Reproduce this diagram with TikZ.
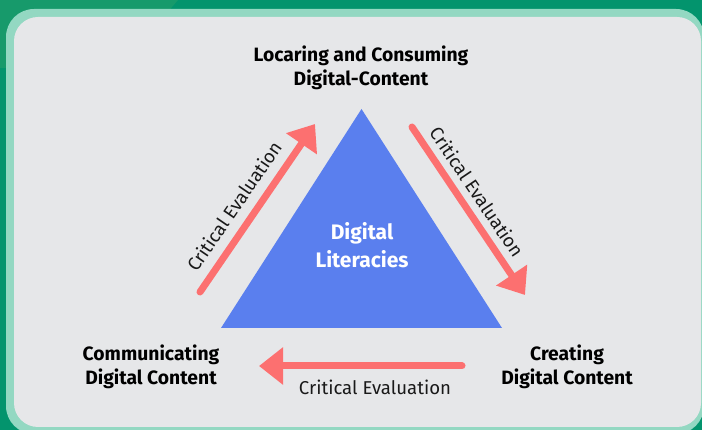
\documentclass[tikz,border=0pt]{standalone}
\usepackage{fontspec}
\setmainfont{Fira Sans}
\usetikzlibrary{arrows.meta}
\definecolor{bgdark}{HTML}{03946D}
\definecolor{bglight}{HTML}{179A6B}
\definecolor{framegreen}{HTML}{93D8C2}
\definecolor{panelgrey}{HTML}{E6E7E9}
\definecolor{triblue}{HTML}{5A7FEE}
\definecolor{arrred}{HTML}{FC7070}
\tikzset{
  headlabel/.style={font=\fontsize{19.3}{24.5}\selectfont\bfseries, align=center, text=black, inner sep=0pt},
  evallabel/.style={font=\fontsize{18.6}{20}\selectfont, text=black!90, inner sep=0pt},
  evalarrow/.style={draw=arrred, line width=7pt, line cap=round, -{Triangle[length=24pt 0 0, width=36pt 0 0]}},
}
\begin{document}
\begin{tikzpicture}[x=1pt,y=-1pt]
\useasboundingbox (0,0) rectangle (702,430);
% background
\fill[bgdark] (0,0) rectangle (702,430);
\fill[bglight] (0,0) -- (178,0) -- (120,68) -- (0,68) -- cycle;
% frame and panel
\fill[framegreen, rounded corners=28pt] (6,9) rectangle (704,434);
\fill[panelgrey, rounded corners=24pt] (14,17) rectangle (701,427);
% triangle
\coordinate (apex) at (361.5,109);
\coordinate (bl) at (221,328);
\coordinate (br) at (502,328);
\fill[triblue] (apex) -- (bl) -- (br) -- cycle;
\node[headlabel, text=white, font=\fontsize{21}{28}\selectfont\bfseries] (center) at (362,245) {Digital\\Literacies};
% corner labels
\node[headlabel] (top) at (361,68) {Locaring and Consuming\\Digital-Content};
\node[headlabel] (left) at (151,367) {Communicating\\Digital Content};
\node[headlabel] (right) at (567,367) {Creating\\Digital Content};
% arrows
\coordinate (a1s) at (200,292);
\coordinate (a1e) at (315,124);
\coordinate (a2s) at (412,127);
\coordinate (a2e) at (525,295);
\coordinate (a3s) at (462,366);
\coordinate (a3e) at (259,366);
\draw[evalarrow] (a1s) -- (a1e);
\draw[evalarrow] (a2s) -- (a2e);
\draw[evalarrow] (a3s) -- (a3e);
% labels
\node[evallabel, rotate=55.6] (e1) at (234,206) {Critical Evaluation};
\node[evallabel, rotate=-56] (e2) at (477,192) {Critical Evaluation};
\node[evallabel] (e3) at (375,387) {Critical Evaluation};
\end{tikzpicture}
\end{document}
